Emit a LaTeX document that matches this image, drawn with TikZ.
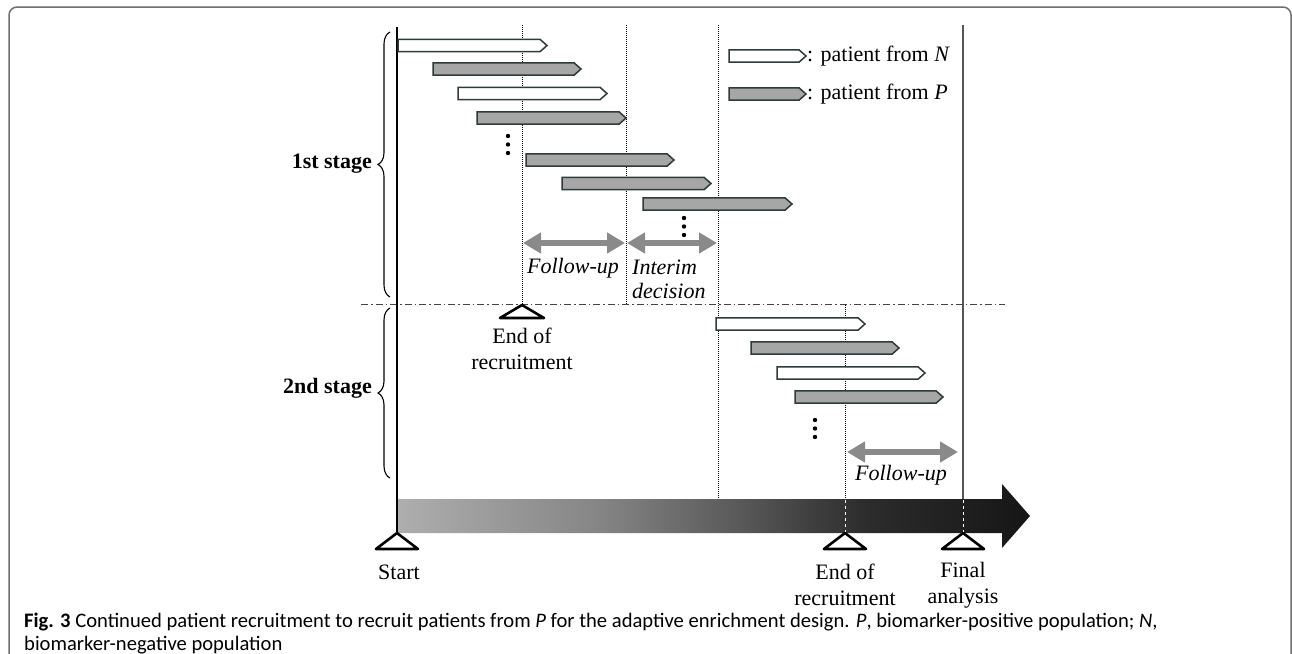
\documentclass[tikz,border=0pt]{standalone}
\usepackage{fontspec}
\setmainfont{Liberation Serif}
\newfontfamily\capfont{Carlito}
\usetikzlibrary{arrows.meta,decorations.pathreplacing}

\definecolor{barfill}{HTML}{A6A6A6}
\definecolor{baredge}{HTML}{2E3B3B}
\definecolor{fuarrow}{HTML}{8A8A8A}
\definecolor{framec}{HTML}{707070}
\definecolor{sepc}{HTML}{444444}
\definecolor{finalc}{HTML}{555555}
\definecolor{tA}{HTML}{AEAEAE}
\definecolor{tB}{HTML}{858585}
\definecolor{tC}{HTML}{555555}
\definecolor{tD}{HTML}{2C2C2C}
\definecolor{tE}{HTML}{161616}
\pgfdeclarehorizontalshading{timeline}{100bp}{color(0bp)=(tA); color(25bp)=(tA); color(41bp)=(tB); color(53bp)=(tC); color(62bp)=(tD); color(75bp)=(tE); color(100bp)=(tE)}

% patient bar: x-left, y-centre, length, fill
\newcommand{\pbar}[4]{%
  \draw[barstyle, fill=#4] (#1,#2-6.2) -- ++(#3-7,0) -- ++(7,6.2) -- ++(-7,6.2) -- ++(-#3+7,0) -- cycle;}
\newcommand{\vdotsat}[2]{%
  \fill (#1,#2) circle (2.2) (#1,#2+8.5) circle (2.2) (#1,#2+17) circle (2.2);}

\tikzset{
  barstyle/.style={draw=baredge, line width=1.5pt, line join=miter},
  dotline/.style={black, line width=0.9pt, dash pattern=on 1pt off 1pt},
  fu/.style={fuarrow, line width=6pt,
    {Triangle[length=18pt,width=20pt]}-{Triangle[length=18pt,width=20pt]}},
  lbl/.style={font=\fontsize{22}{26}\selectfont, inner sep=0pt, align=center},
  stagelbl/.style={font=\bfseries\fontsize{22}{26}\selectfont, inner sep=0pt, anchor=east},
  milestone/.style={draw=black, fill=white, line width=2.6pt, line join=round},
  brc/.style={decorate, decoration={brace, amplitude=12pt}, line width=1.1pt},
  captext/.style={font=\capfont\fontsize{20.6}{23}\selectfont, inner sep=0pt, anchor=base west}
}

\begin{document}
\begin{tikzpicture}[x=1pt,y=-1pt]
\useasboundingbox (0,0) rectangle (1292,653);
\clip (0,0) rectangle (1292,653);
\fill[white] (0,0) rectangle (1292,653);

% frame
\draw[framec, line width=1.5pt, rounded corners=8pt] (9,7) rectangle (1291,720);

% big time arrow
\shade[shading=timeline] (397,499) -- (1002,499) -- (1002,484) -- (1030,516) -- (1002,548) -- (1002,533) -- (397,533) -- cycle;

% vertical guide lines
\draw[dotline] (522,25) -- (522,305);
\draw[dotline] (626,25) -- (626,304);
\draw[dotline] (718,25) -- (718,499);
\draw[dotline] (845,305) -- (845,499);
\draw[white, line width=1pt, dash pattern=on 3pt off 3pt] (845,500) -- (845,532);
\draw[finalc, line width=1.4pt] (963,25) -- (963,499);
\draw[white, line width=1pt, dash pattern=on 3pt off 3pt] (963,500) -- (963,532);

% stage separator
\draw[sepc, line width=1pt, dash pattern=on 7pt off 3pt on 1.5pt off 3pt] (361,304) -- (1005,304);

% main time axis
\draw[black, line width=2pt] (397,27) -- (397,533);

% braces
\draw[brc] (390,297) -- (390,32);
\draw[brc] (390,478) -- (390,308);
\node[stagelbl] (s1) at (372,164) {1st stage};
\node[stagelbl] (s2) at (372,388) {2nd stage};

% stage 1 patients
\pbar{398}{45.5}{149}{white}
\pbar{433}{69}{148}{barfill}
\pbar{458}{93.5}{149}{white}
\pbar{477}{118}{149}{barfill}
\vdotsat{508}{136}
\pbar{526}{160}{148}{barfill}
\pbar{562}{183.5}{149}{barfill}
\pbar{643}{204}{149}{barfill}
\vdotsat{684}{218}

% legend
\pbar{729}{56}{77}{white}
\pbar{729}{94}{77}{barfill}
\node[lbl, anchor=west] (legN) at (807,56) {: patient from \textit{N}};
\node[lbl, anchor=west] (legP) at (807,94) {: patient from \textit{P}};

% stage 1 follow-up / interim
\draw[fu] (523,243) -- (625,243);
\draw[fu] (627,243) -- (717,243);
\node[lbl, font=\itshape\fontsize{22}{26}\selectfont] (fu1) at (573,268) {Follow-up};
\node[lbl, font=\itshape\fontsize{22}{24}\selectfont, align=left, anchor=west] (interim) at (632,279) {Interim\\decision};

% end of recruitment (stage 1)
\draw[milestone] (522,305) -- (544,318) -- (500,318) -- cycle;
\node[lbl] (eor1) at (522,349) {End of\\recruitment};

% stage 2 patients
\pbar{716}{324}{149}{white}
\pbar{751}{348}{148}{barfill}
\pbar{777}{373}{148}{white}
\pbar{795}{397}{148}{barfill}
\vdotsat{815}{420}
\draw[fu] (847,452) -- (958,452);
\node[lbl, font=\itshape\fontsize{22}{26}\selectfont] (fu2) at (901,475) {Follow-up};

% milestones on the time axis
\draw[milestone] (397,533) -- (418,549) -- (376,549) -- cycle;
\draw[milestone] (845,533) -- (866,549) -- (824,549) -- cycle;
\draw[milestone] (963,533) -- (984,549) -- (942,549) -- cycle;
\node[lbl] (start) at (399,572) {Start};
\node[lbl] (eor2) at (845,585) {End of\\recruitment};
\node[lbl] (final) at (963,585) {Final\\analysis};

% caption
\node[captext] (cap1) at (24,627) {\textbf{Fig. 3} Continued patient recruitment to recruit patients from \textit{P} for the adaptive enrichment design. \textit{P}, biomarker-positive population; \textit{N},};
\node[captext] (cap2) at (24,650) {biomarker-negative population};
\end{tikzpicture}
\end{document}
